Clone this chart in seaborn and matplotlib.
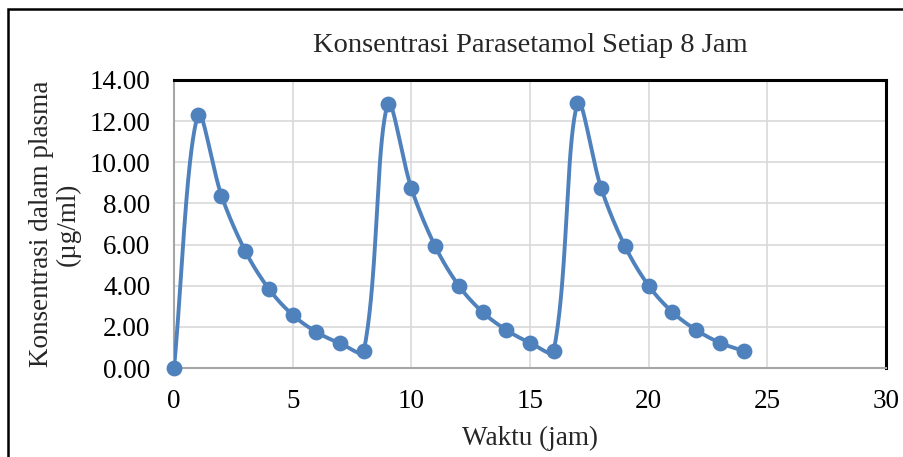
import numpy as np
import pandas as pd
import matplotlib
matplotlib.use("Agg")
import matplotlib.pyplot as plt
import seaborn as sns

# data
waktu = list(range(0, 25))
konsentrasi = [0.00, 12.30, 8.38, 5.69, 3.84, 2.58, 1.75, 1.20, 0.83,
               12.82, 8.74, 5.93, 4.00, 2.72, 1.85, 1.23, 0.83,
               12.87, 8.74, 5.93, 4.00, 2.72, 1.85, 1.23, 0.83]
y_ticks = [0, 2, 4, 6, 8, 10, 12, 14]
x_ticks = [0, 5, 10, 15, 20, 25, 30]

BLUE = "#4F81BD"
# rough pixels per data unit, so the smoothing behaves like it does on screen
SX, SY = 23.7, 20.6


def smooth_curve(x, y, n=40):
    # Excel-like smoothed line: Bezier segments, tangents weighted by segment length
    p = np.column_stack([np.asarray(x, float) * SX, np.asarray(y, float) * SY])
    pts = []
    for i in range(len(p) - 1):
        p0 = p[i - 1] if i > 0 else p[i]
        p1, p2 = p[i], p[i + 1]
        p3 = p[i + 2] if i + 2 < len(p) else p[i + 1]
        d01 = np.linalg.norm(p1 - p0)
        d12 = np.linalg.norm(p2 - p1)
        d23 = np.linalg.norm(p3 - p2)
        c1 = p1 + (p2 - p0) * d12 / (d01 + d12) / 3
        c2 = p2 - (p3 - p1) * d12 / (d12 + d23) / 3
        t = np.linspace(0, 1, n)[:, None]
        seg = (1 - t) ** 3 * p1 + 3 * (1 - t) ** 2 * t * c1 + 3 * (1 - t) * t ** 2 * c2 + t ** 3 * p2
        pts.append(seg if i == 0 else seg[1:])
    pts = np.vstack(pts)
    return pd.DataFrame({"x": pts[:, 0] / SX, "y": pts[:, 1] / SY})


df = pd.DataFrame({"waktu": waktu, "konsentrasi": konsentrasi})
curve = smooth_curve(df["waktu"], df["konsentrasi"])

sns.set_style("white")
plt.rcParams["font.family"] = ["Liberation Serif", "DejaVu Serif"]
FS = 19.5

fig = plt.figure(figsize=(9.04, 4.57), dpi=100)
ax = fig.add_axes([0.1925, 0.1947, 0.7875, 0.6303])

ax.grid(True, color="#D9D9D9", linewidth=1.2)
ax.set_axisbelow(True)

sns.lineplot(data=curve, x="x", y="y", ax=ax, color=BLUE, linewidth=2.8,
             sort=False, estimator=None, zorder=3)
sns.scatterplot(data=df, x="waktu", y="konsentrasi", ax=ax, color=BLUE,
                s=130, edgecolor=BLUE, linewidth=0, zorder=4, clip_on=False)

ax.set_xlim(0, 30)
ax.set_ylim(0, 14)
ax.set_xticks(x_ticks)
ax.set_yticks(y_ticks)
ax.set_yticklabels([f"{v:.2f}" for v in y_ticks])
ax.tick_params(axis="both", length=0, labelsize=FS, colors="black")
ax.tick_params(axis="x", pad=15)
ax.tick_params(axis="y", pad=17)

for side in ["left", "bottom"]:
    ax.spines[side].set_color("#A6A6A6")
    ax.spines[side].set_linewidth(1.5)
for side in ["top", "right"]:
    ax.spines[side].set_color("black")
    ax.spines[side].set_linewidth(2.2)

ax.set_title("Konsentrasi Parasetamol Setiap 8 Jam", fontsize=20.5, pad=20)
ax.set_xlabel("Waktu (jam)", fontsize=FS, labelpad=9)
ax.set_ylabel("Konsentrasi dalam plasma\n(µg/ml)", fontsize=FS, labelpad=6,
              linespacing=1.1)

# border around the whole chart
fig.patches.append(plt.Rectangle((8 / 904, -0.1), 1.2, 1 - 9 / 457 + 0.1,
                                 transform=fig.transFigure, fill=False,
                                 edgecolor="black", linewidth=1.8))

fig.savefig("out.png", dpi=100)
